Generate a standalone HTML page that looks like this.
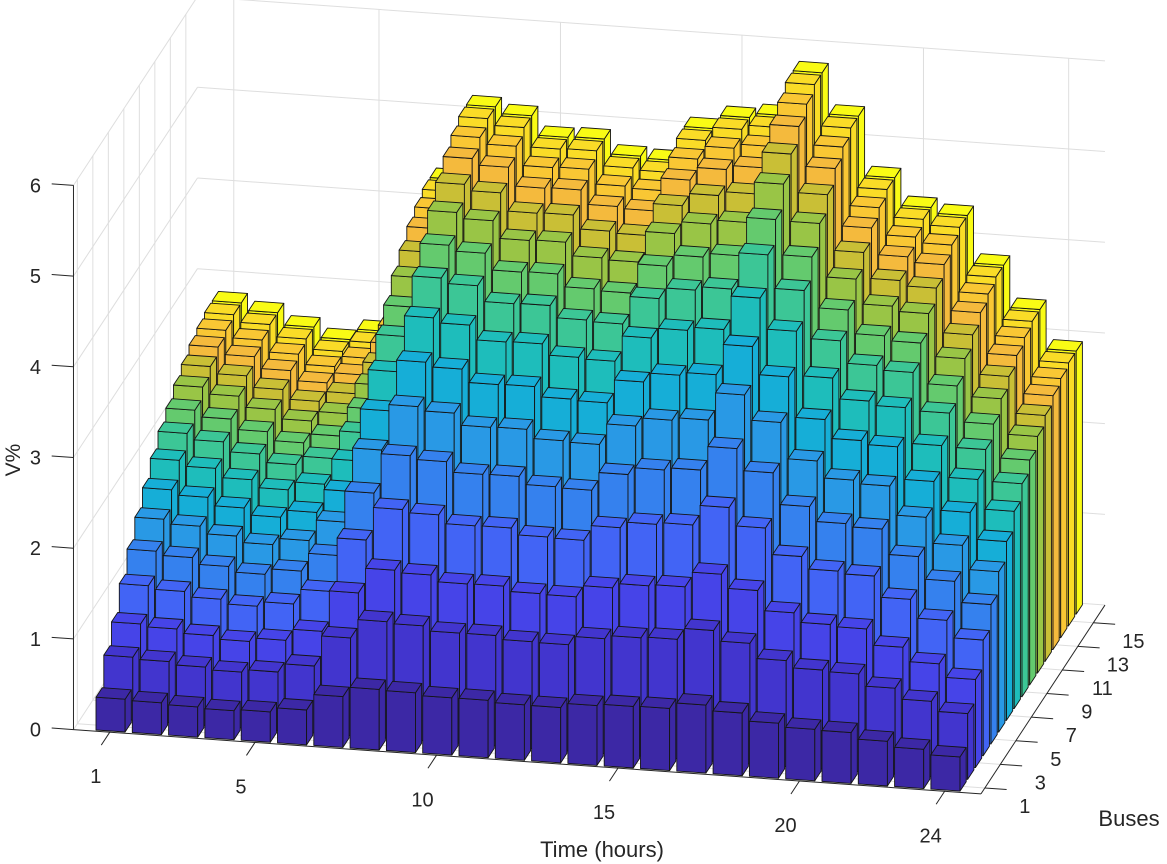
<!DOCTYPE html>
<html>
<head>
<meta charset="utf-8">
<style>
  html,body{margin:0;padding:0;background:#fff;}
  svg{display:block;font-family:"Liberation Sans",Arial,sans-serif;}
</style>
</head>
<body>
<svg id="chart" width="1167" height="864" viewBox="0 0 1167 864" xmlns="http://www.w3.org/2000/svg">
  <g id="grid"></g>
  <g id="axes"></g>
  <g id="bars"></g>
  <text x="20" y="460" font-size="21" fill="#262626" text-anchor="middle" transform="rotate(-90 20 460)">V%</text>
  <text x="602" y="857" font-size="22" fill="#262626" text-anchor="middle">Time (hours)</text>
  <text x="1129" y="826" font-size="22" fill="#262626" text-anchor="middle">Buses</text>
</svg>
<script>
// ---- data ----
const hours = [1,2,3,4,5,6,7,8,9,10,11,12,13,14,15,16,17,18,19,20,21,22,23,24];
const buses = [1,2,3,4,5,6,7,8,9,10,11,12,13,14,15,16];
// V% at the last bus (bus 16) for each hour
const lastBusV = [2.78,2.70,2.57,2.46,2.58,2.96,4.31,5.14,5.07,4.86,4.87,4.71,4.69,5.07,5.22,5.27,5.77,5.32,4.67,4.37,4.31,3.79,3.33,2.90];
// share of the last-bus value reached at each bus
const busShare = [0.13,0.25,0.335,0.44,0.53,0.61,0.68,0.75,0.81,0.855,0.90,0.935,0.965,0.985,1.0,1.0];
const xTicks = [1,5,10,15,20,24];
const yTicks = [1,3,5,7,9,11,13,15];
const zTicks = [0,1,2,3,4,5,6];

// ---- projection ----
const X0=69.6, Y0=735.5, TX=36.3, TY=2.57, BX=7.75, BY=-11.8, ZY=-90.7;
const tMin=0, tMax=25, bMin=0.5, bMax=16.5, zMax=6;
function P(t,b,z){ return [X0+TX*t+BX*b, Y0+TY*t+BY*b+ZY*z]; }
const NS="http://www.w3.org/2000/svg";
function mk(tag, parent){ const e=document.createElementNS(NS,tag); parent.appendChild(e); return e; }
function line(parent,a,b,col,w){
  const l=mk('line',parent);
  l.setAttribute('x1',a[0]);l.setAttribute('y1',a[1]);l.setAttribute('x2',b[0]);l.setAttribute('y2',b[1]);
  l.setAttribute('stroke',col);l.setAttribute('stroke-width',w);
  return l;
}
// parula-like colormap
const stops=[[0,[60,40,165]],[0.07,[66,54,208]],[0.14,[70,70,235]],[0.2,[66,100,245]],[0.27,[52,130,238]],[0.34,[40,155,228]],[0.42,[16,180,210]],[0.5,[40,196,170]],[0.6,[100,202,110]],[0.7,[180,194,50]],[0.8,[244,186,61]],[0.9,[251,205,48]],[1,[249,251,21]]];
function parula(f){
  for(let i=1;i<stops.length;i++){
    if(f<=stops[i][0]){
      const a=stops[i-1],b=stops[i],u=(f-a[0])/(b[0]-a[0]);
      const c=a[1].map((v,k)=>Math.round(v+(b[1][k]-v)*u));
      return 'rgb('+c.join(',')+')';
    }
  }
  return 'rgb(249,251,21)';
}

// ---- grid ----
const grid=document.getElementById('grid');
const gc='#dedede';
zTicks.forEach(z=>{
  let g1=line(grid,P(tMin,bMin,z),P(tMin,bMax,z),gc,1);
  
  
  let g2=line(grid,P(tMin,bMax,z),P(tMax,bMax,z),gc,1);
  
  
});
yTicks.forEach(b=>{
  let g=line(grid,P(tMin,b,0),P(tMin,b,zMax),gc,1);
  
  
  let f=line(grid,P(tMin,b,0),P(tMax,b,0),gc,1);
  
  
});
xTicks.forEach(t=>{
  let g=line(grid,P(t,bMax,0),P(t,bMax,zMax),gc,1);
  
  
  let f=line(grid,P(t,bMin,0),P(t,bMax,0),gc,1);
  
  
});

// ---- axes ----
const axes=document.getElementById('axes');
const ac='#262626';
let za=line(axes,P(tMin,bMin,0),P(tMin,bMin,zMax),ac,1);


let xa=line(axes,P(tMin,bMin,0),P(tMax,bMin,0),ac,1);


let ya=line(axes,P(tMax,bMin,0),P(tMax,bMax,0),ac,1);


function txt(parent,x,y,s,anchor){
  const e=mk('text',parent);
  e.setAttribute('x',x);e.setAttribute('y',y);e.setAttribute('font-size','20');
  e.setAttribute('fill',ac);e.setAttribute('text-anchor',anchor);
  e.textContent=s; return e;
}
zTicks.forEach(z=>{
  const a=P(tMin,bMin,z), b=P(tMin-0.6,bMin,z);
  let tk=line(axes,a,b,ac,1);
  
  
  let lb=txt(axes,a[0]-38,a[1]+7,String(z),'middle');
  
  
});
xTicks.forEach(t=>{
  const a=P(t,bMin,0), b=P(t,bMin-1.1,0);
  let tk=line(axes,a,b,ac,1);
  
  
  let lb=txt(axes,a[0]-14,a[1]+51,String(t),'middle');
  
  
});
yTicks.forEach(bb=>{
  const a=P(tMax,bb,0), b=P(tMax+0.6,bb,0);
  let tk=line(axes,a,b,ac,1);
  
  
  let lb=txt(axes,a[0]+40,a[1]+25,String(bb),'middle');
  
  
});

// ---- bars ----
const barsG=document.getElementById('bars');
function poly(parent,pts,fill){
  const p=mk('polygon',parent);
  p.setAttribute('points',pts.map(q=>q[0].toFixed(1)+','+q[1].toFixed(1)).join(' '));
  p.setAttribute('fill',fill);p.setAttribute('stroke','#151515');
  p.setAttribute('stroke-width','0.9');p.setAttribute('stroke-linejoin','round');
  return p;
}
for(let bi=buses.length-1;bi>=0;bi--){
  const b=buses[bi];
  const col=parula(bi/(buses.length-1));
  for(let ti=0;ti<hours.length;ti++){
    const t=hours[ti];
    const v=lastBusV[ti]*busShare[bi];
    const t0=t-0.4,t1=t+0.4,b0=b-0.4,b1=b+0.4;
    const g=mk('g',barsG);
    
    
    poly(g,[P(t0,b0,0),P(t1,b0,0),P(t1,b0,v),P(t0,b0,v)],col);
    poly(g,[P(t1,b0,0),P(t1,b1,0),P(t1,b1,v),P(t1,b0,v)],col);
    poly(g,[P(t0,b0,v),P(t1,b0,v),P(t1,b1,v),P(t0,b1,v)],col);
  }
}
</script>
</body>
</html>
